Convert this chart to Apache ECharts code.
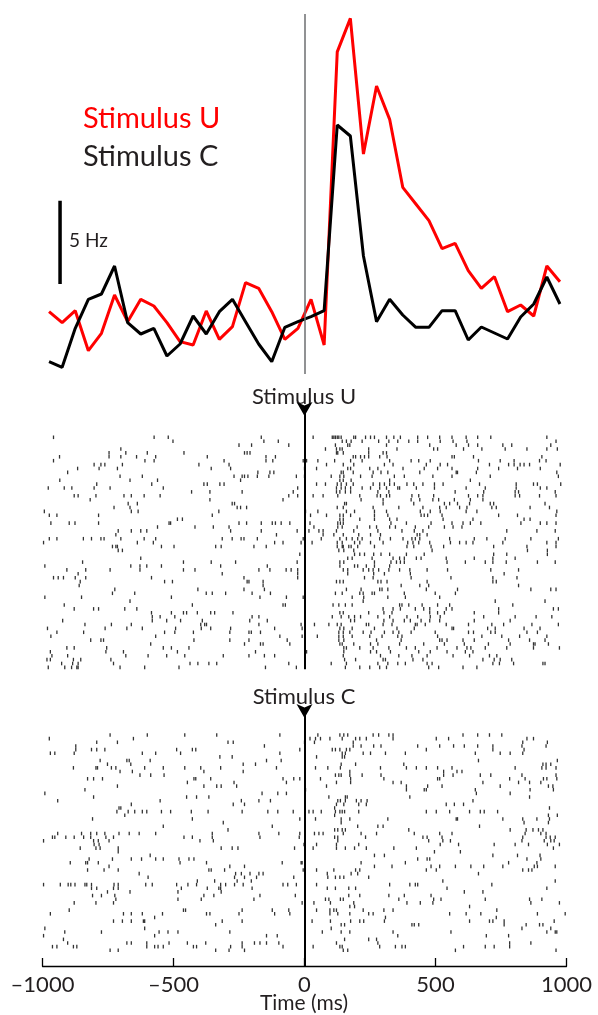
<!DOCTYPE html>
<html>
<head>
<meta charset="utf-8">
<script src="https://cdn.jsdelivr.net/npm/echarts@6/dist/echarts.min.js"></script>
<style>
html, body { margin: 0; padding: 0; background: #fff; }
#container { width: 598px; height: 1015px; }
</style>
</head>
<body>
<div id="container"></div>
<script type="text/javascript">

// PSTH, 50 ms bins (Hz)
var binCenters = [-975, -925, -875, -825, -775, -725, -675, -625, -575, -525, -475, -425, -375, -325, -275, -225, -175, -125, -75, -25,
                  25, 75, 125, 175, 225, 275, 325, 375, 425, 475, 525, 575, 625, 675, 725, 775, 825, 875, 925, 975];
var rateU = [5.48, 4.82, 5.54, 3.14, 4.18, 6.48, 4.88, 6.22, 5.82, 4.82, 3.68, 3.48, 5.52, 3.82, 4.58, 7.22, 6.88, 5.48, 3.82, 4.48,
             6.22, 3.48, 21.07, 23.08, 14.94, 19.02, 17.02, 12.94, 11.94, 10.94, 9.26, 9.58, 7.94, 6.88, 7.58, 5.48, 5.88, 5.22, 8.22, 7.28];
var rateC = [2.48, 2.14, 4.48, 6.22, 6.54, 8.22, 4.82, 4.14, 4.48, 2.82, 3.54, 5.22, 4.14, 5.48, 6.22, 4.88, 3.54, 2.48, 4.54, 4.88,
             5.18, 5.54, 16.68, 16.02, 8.82, 4.88, 6.22, 5.28, 4.54, 4.54, 5.54, 5.54, 3.78, 4.56, 4.2, 3.84, 5.16, 5.94, 7.56, 5.94];

// scale bar: 5 Hz
var scaleBarHz = 5;
var scaleBarBase = 7.14;
var scaleBarTime = -933;

// spike times (ms) per trial
var spikesU = [
  [-958, -574, -520, -165, 33, 106, 112, 118, 125, 131, 140, 188, 195, 233, 252, 267, 313, 341, 366, 432, 470, 516, 563, 617, 661, 711, 925],
  [-502, -155, -100, 144, 160, 178, 220, 283, 322, 356, 398, 432, 518, 567, 620, 960],
  [-250, -202, -60, 118, 165, 173, 313, 478, 579, 626, 661, 757, 791, 940],
  [-701, 80, 122, 135, 144, 245, 353, 493, 508, 607, 677, 766, 849, 925, 965],
  [-746, -682, -600, -460, -229, -219, -208, 122, 127, 148, 245, 300, 313],
  [-935, -746, -701, -641, -568, -371, -147, -111, 186, 195, 214, 229, 245, 287, 315, 563, 572, 645, 906],
  [-958, -609, -574, -307, -147, -121, -5, 8, 51, 115, 176, 220, 325, 407, 436, 480, 664, 747, 800, 897, 922],
  [-803, -777, -762, -695, -403, -288, 84, 148, 188, 305, 338, 465, 518, 546, 706, 779, 800, 823, 838, 859, 976],
  [-866, -784, -714, -356, -282, 0, 46, 165, 176, 249, 280, 376, 457, 508, 563, 661, 741, 813, 900],
  [-904, -178, -132, -117, 140, 148, 186, 262, 292, 318, 440, 579, 584, 656, 963],
  [-704, -619, -269, -238, -229, -216, -180, -136, -31, 0, 102, 135, 150, 214, 258, 343, 381, 490, 563, 709, 969],
  [-934, -666, -561, -244, 135, 148, 178, 325, 633],
  [-793, -583, -384, -371, -323, -307, 46, 80, 125, 140, 160, 186, 262, 287, 305, 325, 343, 391, 417, 452, 496, 529, 668, 808, 874, 889, 978],
  [-978, -917, -888, -803, -742, -539, -26, 122, 140, 156, 176, 220, 252, 287, 313, 356, 363, 427, 496, 617, 690, 808, 900, 925],
  [-431, -361, -238, -43, 122, 135, 156, 176, 280, 322, 575, 684, 804, 817, 957],
  [-879, -864, -796, -689, -661, -612, -551, -60, -26, 33, 71, 127, 211, 277, 290, 313, 325, 410, 436, 493, 626, 661, 681, 804, 821, 897, 960],
  [-818, -361, -82, 216, 300, 407, 440, 490, 512, 572, 633, 681],
  [-673, -638, -276, -267, 153, 160, 300, 417, 534, 554, 584, 630, 709, 722, 918],
  [-727, -666, -257, -244, -221, 125, 148, 262, 360, 452, 516, 541, 592, 620, 715, 732, 861, 935],
  [-993, -661, -635, -327, 4, 51, 160, 191, 267, 313, 442, 480, 518, 617, 658, 963],
  [-974, -945, -786, -352, 23, 84, 135, 148, 176, 267, 318, 445, 457, 470, 525, 741, 813, 960],
  [-485, -466, 135, 148, 211, 267, 325, 353, 529, 643, 838, 861],
  [-968, -898, -876, -786, -517, -511, -250, -221, -165, -123, -111, -89, -56, 21, 127, 137, 148, 330, 389, 483, 563, 605, 633, 673, 826, 900, 925, 960],
  [-561, -418, -348, -288, 36, 127, 144, 201, 249, 275, 325, 347, 423, 474, 534, 567, 601],
  [-711, -661, -625, -602, -282, -165, -28, 17, 55, 71, 122, 188, 280, 372, 419, 452, 772, 887, 957],
  [-720, -107, 71, 112, 148, 207, 252, 290, 430, 440, 468],
  [-974, -945, -844, -813, -777, -765, -701, -612, -568, -314, -276, -242, -231, -180, -5, 64, 135, 160, 182, 203, 220, 287, 328, 376, 410, 423, 440, 554, 648, 696, 766, 864, 969],
  [-996, -638, -577, -114, -82, -13, 29, 125, 144, 191, 211, 252, 300, 394, 414, 436, 478, 557, 592, 617, 643, 757, 925, 960],
  [-733, -720, -714, -546, -498, -339, -318, -193, -146, 125, 144, 148, 169, 178, 203, 267, 391, 417, 483, 531, 722, 849, 960],
  [-711, -695, 131, 150, 188, 487, 851, 927],
  [-18, 191, 211, 229, 264, 292, 325, 389, 457, 722, 772, 927],
  [-625, 165, 182, 258, 338, 363, 381, 427, 445, 541, 648, 719, 804],
  [-847, -462, -356, -263, -28, 135, 150, 267, 330, 351, 366, 381, 544, 614, 690, 719, 770, 889, 957],
  [-991, -663, -628, -602, -546, -320, -142, 135, 191, 203, 236, 267, 325],
  [-907, -835, -742, -628, -462, -418, -174, -132, -70, -51, -26, 148, 165, 224, 245, 262, 283, 322, 363, 402, 468, 546, 711, 817],
  [-864, -314, -26, 165, 264, 305, 404, 762],
  [-958, -940, -920, -875, -835, -584, -231, -26, 229, 262, 407, 559, 719, 811],
  [-856, -534, -504, -219, -212, -158, 122, 135, 148, 280, 292, 315, 468, 719, 732],
  [-860, -158, 369, 440, 474, 817],
  [-724, -407, -231, -153, 160, 216, 287, 296, 318, 465, 584, 864, 940, 960],
  [-733, -648, -375, -352, -301, -200, -130, 118, 144, 211, 224, 258, 267, 381, 499, 576],
  [-991, -851, -508, -170, -69, -5, 182, 226, 318, 385, 516],
  [-666, 224, 728, 918],
  [-917, -428, -82, -73, 109, 131, 156, 182, 363, 372, 398, 449, 508, 554, 795],
  [-879, -805, -786, -686, -640, 300, 338, 366, 423, 455, 478, 541, 563, 741, 950, 969],
  [-584, -508, -462, -450, -409, -358, -343, -273, 135, 148, 245, 303, 334, 478, 508, 534, 648, 741],
  [-581, -551, -495, -200, -174, 106, 140, 169, 191, 214, 280, 325, 391, 432, 480, 518, 684, 804, 884, 944],
  [-923, -581, -526, -473, -390, -209, -142, 176, 191, 303, 338, 381, 404, 445, 478, 516, 648, 785],
  [-838, -737, -661, -396, -381, -374, -174, -13, 38, 93, 125, 140, 236, 245, 300, 334, 423, 430, 461, 541, 626, 715, 760, 868, 969],
  [-981, -761, -678, -619, -492, -394, -358, -282, -114, -9, 135, 150, 182, 267, 353, 419, 563, 569, 699, 728, 838, 899],
  [-945, -843, -534, -495, -424, -285, -212, -203, -168, 131, 148, 173, 224, 254, 305, 338, 360, 407, 499, 626, 645, 711, 728, 849, 889],
  [-968, -568, -94, -9, 49, 131, 148, 182, 249, 296, 356, 372, 508, 677, 753, 821, 925],
  [-816, -777, -767, -422, -285, -212, -66, 131, 150, 275, 369, 516, 525, 544, 605, 648, 779, 859, 918],
  [-587, -229, -168, -158, -56, 135, 144, 188, 252, 280, 363, 455, 534, 610, 702, 785, 874, 880, 931],
  [-907, -879, -755, -539, -508, -441, 150, 160, 211, 262, 322, 389, 423, 506, 582, 620, 635, 690, 772, 874, 973],
  [-970, -758, -691, -485, -187, 8, 150, 252, 275, 328, 436, 480, 544, 614, 643],
  [-964, -904, -682, -597, -526, -457, -310, -212, -153, -114, 148, 290, 360, 410, 468, 567, 630, 706, 734],
  [-983, -970, -882, -854, -739, 153, 195, 300, 309, 414, 452, 681, 724, 747, 791],
  [-927, -885, -864, -729, -437, -407, -365, -335, -60, 102, 160, 280, 318, 356, 385, 468, 487, 719, 744, 798, 910, 918],
  [-978, -915, -889, -869, -864, -704, -610, -479, -149, -31, 156, 211, 249, 287, 313, 474, 512, 605, 658]
];

var spikesC = [
  [-742, -600, -457, -335, -94, 51, 135, 150, 165, 262, 283, 322, 338, 605, 661, 706, 753],
  [-974, -653, 21, 42, 61, 97, 144, 195, 211, 236, 338, 503, 550, 849, 874],
  [-793, -714, -292, -272, 0, 38, 186, 833, 927],
  [-873, -153, 186, 216, 264, 292, 432, 516, 569, 610, 661, 719, 830, 922],
  [-873, -813, -793, -762, -488, -428, -415, -18, 106, 118, 135, 160, 173, 465, 719, 838],
  [-970, -953, -879, -619, -568, -473, -94, 144, 156, 224, 252, 309, 385, 652, 747, 785, 833],
  [-323, -276, 46, 144, 153],
  [-780, -678, -669, -589, -145, -89, 664, 965],
  [-752, -663, -234, -187, 140, 195, 379, 910, 922, 940],
  [-882, -796, -790, -737, -720, -610, -539, -457, -396, -320, -107, 42, 89, 137, 290, 389, 427, 465, 508, 563, 804, 906, 922, 960],
  [-704, -657, -384, -234, 173, 531, 582, 601],
  [-628, -587, -536, 118, 131, 140, 173, 220, 292, 531, 567, 671, 711, 830, 960],
  [-828, -805, -771, -422, -415, -358, -82, -41, -18, 61, 176, 303, 508, 516, 783, 842, 912, 925, 963],
  [-447, -269, -69, 122, 176, 338, 369, 681, 817, 859, 902],
  [-714, -384, -335, -318, -259, 84, 389, 470, 525, 747, 931, 948],
  [-838, 4, 389, 457, 465, 652, 861, 950],
  [-991, -162, -102, -69, 656, 785],
  [-805, -450, -412, -365, 93, 156, 163, 402, 859],
  [-942, -551, -241, -174, -130, 127, 137, 156, 198, 216, 239, 643],
  [-661, -272, -229, 122, 150, 207, 236, 541, 572, 607],
  [-708, -701, 115, 935],
  [-716, -673, -648, -619, -602, -546, -511, -432, -368, -238, -140, -102, -43, 17, 33, 64, 118, 135, 144, 153, 207, 465, 503, 554, 630, 671, 686, 737],
  [-686, 115, 931, 965],
  [-809, -428, -18, 42, 140, 173, 318, 579, 584, 757, 833, 887, 935],
  [-310, 140, 838, 931],
  [-539, -123, 203, 280, 300, 668],
  [-292, 115, 127, 144, 156, 398, 785, 846, 872, 893, 910],
  [-942, -851, -816, -793, -762, -708, -669, -631, -568, -352, -174, -98, -18, 38, 55, 71, 148, 216, 275, 419, 516, 563, 842, 902, 922],
  [-962, -953, -911, -879, -843, -816, -758, -729, -460, -428, -352, -170, -20, 115, 127, 233, 452, 468, 525, 833, 922, 938, 957],
  [-996, -805, -787, -746, -399, -348, 127, 474, 528, 557, 830, 915, 940, 953],
  [-803, -784, -2, 46, 122, 207, 518, 588, 724, 804, 855, 927, 973],
  [-856, -796, -780, -711, -318, -276, -254, -38, 33, 122, 156, 191, 236, 341, 427, 950],
  [-711, 496, 595],
  [-589, 267, 305, 719, 813, 899],
  [-822, -733, -661, -622, -568, -539, -479, -441, -422, 432, 468, 478, 849, 902],
  [-894, -835, -828, -787, -475, -374, -85, -13, -9, 216, 385, 779, 887],
  [-746, -285, -229, 267, 334, 483, 516, 576, 635, 684, 757, 877, 889, 957],
  [-828, -765, -711, -365, -356, -305, -5, 46, 112, 195, 211, 465, 503, 833, 855, 868],
  [-631, -263, -241, -208, -174, -158, 87, 178, 203, 664],
  [-597, -267, -229, -183, -41, 89, 118, 135, 150, 245],
  [-409, -343, -257, -203, 528, 957],
  [-996, -932, -902, -892, -876, -838, -831, -813, -727, -711, -606, -581, -488, -445, -412, -320, -301, -267, -234, -82, -64, -31, 46, 325, 402, 423, 432, 715],
  [-813, -793, -729, -711, -470, -371, -327, -320, -200, 87, 118, 169, 195, 544, 925],
  [-752, -666, -483, -318, 610, 681],
  [-809, -775, -724, -384, -346, -170, -35, 169, 211, 322, 381, 483],
  [-720, -483, -394, -193, 80, 93, 137, 148, 360, 493, 521, 690, 859, 906],
  [-879, -796, -729, -9, 36, 99, 188, 391, 442, 490, 864, 973],
  [173, 191, 630],
  [-898, -462, -454, -238, -123, -60, 46, 97, 112, 122, 224, 303, 338, 734],
  [-970, -691, -661, -619, -542, -374, -361, -250, -114, -56, 97, 127, 173, 245, 262, 554, 617, 673, 889, 995],
  [-572, 309, 732],
  [-729, -695, -661, -615, -610, -314, -238, 29, 99, 176, 211, 226, 305, 630, 706, 719, 762, 953],
  [-339, 140, 153, 410, 419, 436, 762, 846, 897, 910],
  [-991, -610, 102, 830, 940],
  [-915, -775, -555, -521, -483, -285, 68, 140, 173, 338, 559, 925, 957, 963],
  [-996, -572, -145, -104, 356, 694, 779],
  [-920, 153, 245, 275],
  [-904, -678, -661, -602, -517, -447, -377, -238, -191, -170, -145, -98, 122, 280, 783, 864],
  [-962, -945, -882, -869, -602, -572, -559, -539, -424, -412, -282, -238, -82, 33, 135, 144, 287, 347, 372, 385, 607, 690, 724, 783],
  [-742, -711, -339, -288, -229, 148, 165, 576, 960]
];

var dom = document.getElementById("container");
var myChart = echarts.init(dom, null, { renderer: 'canvas' });
var font = 'Lato, "Open Sans", sans-serif';

function pairs(xs, ys) {
    return xs.map(function (x, i) { return [x, ys[i]]; });
}

function rasterPoints(rows) {
    var pts = [];
    rows.forEach(function (row, trial) {
        row.forEach(function (t) { pts.push([t, trial]); });
    });
    return pts;
}

function rasterSeries(name, rows, axisIndex, topTrial) {
    return {
        name: name,
        type: 'scatter',
        xAxisIndex: axisIndex,
        yAxisIndex: axisIndex,
        data: rasterPoints(rows),
        symbol: 'rect',
        symbolSize: [1.3, 3.6],
        itemStyle: { color: '#000' },
        silent: true,
        markLine: {
            silent: true,
            symbol: 'none',
            label: { show: false },
            lineStyle: { color: '#000', width: 2, type: 'solid' },
            data: [{ xAxis: 0 }]
        },
        markPoint: {
            silent: true,
            symbol: 'arrow',
            symbolSize: [12, 14],
            symbolRotate: 180,
            symbolOffset: [0, 6],
            itemStyle: { color: '#000' },
            label: { show: false },
            data: [{ coord: [0, topTrial] }]
        }
    };
}

var hiddenX = function (idx) {
    return { gridIndex: idx, type: 'value', min: -1000, max: 1000, show: false };
};

option = {
    animation: false,
    backgroundColor: '#fff',
    grid: [
        { left: 42.5, width: 524, top: 14, height: 360 },
        { left: 42.5, width: 524, top: 410, height: 259.35 },
        { left: 42.5, width: 524, top: 712, height: 254 }
    ],
    xAxis: [
        hiddenX(0),
        hiddenX(1),
        {
            gridIndex: 2, type: 'value', position: 'bottom', min: -1000, max: 1000, interval: 500,
            axisLine: { onZero: false, lineStyle: { color: '#000', width: 1.3 } },
            axisTick: { inside: true, length: 8, lineStyle: { color: '#000', width: 1.3 } },
            axisLabel: {
                fontSize: 22, fontFamily: font, color: '#231f20', margin: 8,
                formatter: function (v) { return String(v).replace('-', '\u2013'); }
            },
            splitLine: { show: false }
        }
    ],
    yAxis: [
        { gridIndex: 0, type: 'value', min: 1.74, max: 23.34, show: false },
        { gridIndex: 1, type: 'value', inverse: true, min: -7, max: 59.5, show: false },
        { gridIndex: 2, type: 'value', inverse: true, min: -6.3, max: 63.3, show: false }
    ],
    graphic: [
        { type: 'text', x: 83, y: 119, style: { text: 'Stimulus U', fill: '#ff0000', font: '29px ' + font, align: 'left', verticalAlign: 'middle' } },
        { type: 'text', x: 83, y: 157, style: { text: 'Stimulus C', fill: '#231f20', font: '29px ' + font, align: 'left', verticalAlign: 'middle' } },
        { type: 'text', x: 69, y: 241, style: { text: '5 Hz', fill: '#231f20', font: '19px ' + font, align: 'left', verticalAlign: 'middle' } },
        { type: 'text', x: 304, y: 397, style: { text: 'Stimulus U', fill: '#231f20', font: '22px ' + font, align: 'center', verticalAlign: 'middle' } },
        { type: 'text', x: 304, y: 697, style: { text: 'Stimulus C', fill: '#231f20', font: '22px ' + font, align: 'center', verticalAlign: 'middle' } },
        { type: 'text', x: 304, y: 1003, style: { text: 'Time (ms)', fill: '#231f20', font: '21px ' + font, align: 'center', verticalAlign: 'middle' } }
    ],
    series: [
        {
            name: 'Stimulus U',
            type: 'line',
            xAxisIndex: 0, yAxisIndex: 0,
            data: pairs(binCenters, rateU),
            symbol: 'none',
            z: 3,
            lineStyle: { color: '#ff0000', width: 3 },
            markLine: {
                silent: true,
                symbol: 'none',
                label: { show: false },
                lineStyle: { color: '#6d6e71', width: 1.5, type: 'solid' },
                data: [{ xAxis: 0 }]
            }
        },
        {
            name: 'Stimulus C',
            type: 'line',
            xAxisIndex: 0, yAxisIndex: 0,
            data: pairs(binCenters, rateC),
            symbol: 'none',
            z: 4,
            lineStyle: { color: '#000', width: 3 }
        },
        {
            name: 'scale',
            type: 'line',
            xAxisIndex: 0, yAxisIndex: 0,
            data: [[scaleBarTime, scaleBarBase], [scaleBarTime, scaleBarBase + scaleBarHz]],
            symbol: 'none',
            lineStyle: { color: '#000', width: 3.5 }
        },
        rasterSeries('raster U', spikesU, 1, -7),
        rasterSeries('raster C', spikesC, 2, -6.3)
    ]
};

if (option && typeof option === "object") {
    myChart.setOption(option, true);
}
</script>
</body>
</html>
